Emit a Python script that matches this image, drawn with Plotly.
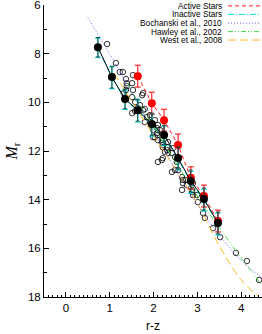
import plotly.graph_objects as go

# ---------------- data ----------------
# individual stars (open circles)
star_rz = [0.94, 1.14, 1.23, 1.30, 1.37, 1.39, 1.39, 1.37, 1.32, 1.53, 1.51, 1.53, 1.51, 1.58,
           1.74, 1.76, 1.69, 1.64, 1.76, 1.51, 1.58, 1.85, 1.80, 1.92, 1.99, 2.10, 2.08, 2.15,
           2.03, 1.80, 1.92, 1.99, 2.08, 2.03, 2.10, 2.19, 2.19, 2.10, 2.19, 2.21, 2.26, 2.31,
           2.33, 2.21, 2.33, 2.31, 2.44, 2.42, 2.49, 2.53, 2.42, 2.49, 2.56, 2.65, 2.72, 2.67,
           2.65, 2.76, 2.90, 2.88, 2.90, 2.99, 3.01, 2.88, 3.13, 3.17, 3.36, 3.52, 3.88, 4.13,
           4.41, 2.67, 1.99, 2.08, 2.21]
star_mr = [7.60, 8.38, 8.75, 8.75, 9.04, 9.21, 9.33, 9.49, 9.62, 8.88, 9.21, 9.49, 9.78, 9.99,
           9.70, 9.62, 10.11, 10.23, 10.32, 10.44, 10.36, 10.60, 10.81, 10.81, 10.93, 10.93, 11.06, 11.14,
           10.73, 10.27, 10.52, 11.14, 11.26, 11.43, 11.55, 11.55, 11.67, 12.45, 12.37, 12.29, 12.04, 11.96,
           12.08, 11.84, 11.63, 11.84, 11.88, 12.08, 12.25, 12.45, 12.86, 12.78, 12.78, 13.07, 13.19, 13.32,
           13.60, 13.40, 13.32, 13.69, 13.81, 13.81, 14.10, 13.60, 14.55, 14.75, 15.17, 15.54, 16.19, 16.52,
           17.30, 13.19, 11.43, 11.35, 11.75]

# binned means: all stars (black)
bin_rz = [0.73, 1.05, 1.35, 1.64, 1.96, 2.24, 2.56, 2.85, 3.15, 3.47]
all_mr = [7.73, 8.96, 9.86, 10.32, 10.89, 11.34, 12.29, 13.23, 13.97, 14.96]
all_err = [0.40, 0.45, 0.40, 0.45, 0.45, 0.40, 0.45, 0.45, 0.45, 0.45]

# inactive stars (cyan)
inactive_mr = [7.76, 8.99, 9.89, 10.36, 10.94, 11.38, 12.33, 13.29, 14.02, 15.00]
inactive_err = [0.40, 0.45, 0.40, 0.45, 0.45, 0.40, 0.45, 0.45, 0.45, 0.45]

# active stars (red)
active_rz = [1.64, 1.96, 2.24, 2.56, 2.85, 3.15, 3.47]
active_mr = [8.92, 10.03, 10.73, 11.75, 13.10, 13.85, 14.88]
active_err = [0.45, 0.45, 0.45, 0.45, 0.45, 0.45, 0.45]

# literature relations
boch_rz = [0.50, 1.00, 1.50, 2.00, 2.50, 3.00, 3.50, 4.00, 4.45]
boch_mr = [6.52, 8.01, 9.59, 11.18, 12.74, 14.19, 15.46, 16.50, 17.18]

hawley_rz = [1.40, 1.75, 2.00, 2.50, 3.00, 3.50, 4.00, 4.45]
hawley_mr = [9.20, 10.30, 11.00, 12.45, 13.85, 15.15, 16.40, 17.45]

west_rz = [1.10, 1.50, 2.00, 2.50, 3.00, 3.50, 4.00, 4.40]
west_mr = [8.80, 9.95, 11.35, 12.75, 14.15, 15.90, 17.30, 18.00]

legend_labels = ["Active Stars", "Inactive Stars", "Bochanski et al., 2010",
                 "Hawley et al., 2002", "West et al., 2008"]

# ---------------- styles ----------------
RED = "#ff1a1a"
CYAN = "#00d8d8"
BLUE = "#6a5cff"
GREEN = "#44dd44"
ORANGE = "#ffbb22"

legend_styles = [(RED, "4px,3px"), (CYAN, "6px,2px,1px,2px"), (BLUE, "1px,2px"),
                 (GREEN, "5px,2px,1px,2px,1px,2px"), (ORANGE, "8px,4px")]

fig = go.Figure()

fig.add_trace(go.Scatter(x=star_rz, y=star_mr, mode="markers",
                         marker=dict(symbol="circle-open", size=5.5, color="black",
                                     line=dict(width=0.8, color="black")),
                         showlegend=False))

fig.add_trace(go.Scatter(x=west_rz, y=west_mr, mode="lines", line_shape="spline",
                         line=dict(color=ORANGE, width=1, dash="8px,4px"), showlegend=False))
fig.add_trace(go.Scatter(x=hawley_rz, y=hawley_mr, mode="lines", line_shape="spline",
                         line=dict(color=GREEN, width=1, dash="5px,2px,1px,2px,1px,2px"),
                         showlegend=False))
fig.add_trace(go.Scatter(x=boch_rz, y=boch_mr, mode="lines", line_shape="spline",
                         line=dict(color=BLUE, width=1, dash="1px,2px"), showlegend=False))

fig.add_trace(go.Scatter(x=bin_rz, y=inactive_mr, mode="lines+markers",
                         line=dict(color=CYAN, width=1, dash="6px,2px,1px,2px"),
                         marker=dict(size=6, color=CYAN),
                         error_y=dict(type="data", array=inactive_err, color=CYAN,
                                      thickness=1, width=3),
                         showlegend=False))
fig.add_trace(go.Scatter(x=active_rz, y=active_mr, mode="lines+markers",
                         line=dict(color=RED, width=1, dash="4px,3px"),
                         marker=dict(size=8, color="red"),
                         error_y=dict(type="data", array=active_err, color="red",
                                      thickness=1, width=3),
                         showlegend=False))
fig.add_trace(go.Scatter(x=bin_rz, y=all_mr, mode="lines+markers",
                         line=dict(color="black", width=1),
                         marker=dict(size=8, color="black"),
                         error_y=dict(type="data", array=all_err, color="#114848",
                                      thickness=1, width=2),
                         showlegend=False))

# custom legend: text on the left, line sample on the right
row_y = [0.997, 0.968, 0.938, 0.909, 0.880]
for lbl, yy, (col, dsh) in zip(legend_labels, row_y, legend_styles):
    fig.add_annotation(x=0.821, y=yy, xref="paper", yref="paper", text=lbl,
                       showarrow=False, xanchor="right", yanchor="middle",
                       font=dict(family="Liberation Sans", size=8.3, color="black"),
                       borderpad=0)
    fig.add_shape(type="line", xref="paper", yref="paper", x0=0.844, x1=0.995,
                  y0=yy, y1=yy, line=dict(color=col, width=1, dash=dsh))

fig.update_layout(
    width=262, height=334,
    margin=dict(l=44, r=0, t=5, b=37, autoexpand=False),
    paper_bgcolor="white", plot_bgcolor="white",
    font=dict(family="Liberation Sans", size=11, color="black"),
    xaxis=dict(range=[-0.5, 4.475], showgrid=False, zeroline=False, automargin=False,
               showline=True, linecolor="black", linewidth=1,
               tickmode="linear", tick0=0, dtick=1,
               ticks="inside", ticklen=5, tickcolor="black",
               minor=dict(dtick=0.1, tick0=0, ticks="inside", ticklen=2, tickcolor="black"),
               tickfont=dict(size=11.5), ticklabeloverflow="allow"),
    yaxis=dict(range=[18.001, 5.995], showgrid=False, zeroline=False, automargin=False,
               showline=True, linecolor="black", linewidth=1,
               tickmode="linear", tick0=6, dtick=2,
               ticks="inside", ticklen=5, tickcolor="black",
               minor=dict(dtick=1, tick0=6, ticks="inside", ticklen=3, tickcolor="black"),
               title=dict(text="<i>M</i><sub>r</sub>",
                          font=dict(family="Liberation Serif", size=16), standoff=6),
               tickfont=dict(size=11.5), ticklabeloverflow="allow"),
)

# x-axis title placed explicitly
fig.add_annotation(x=0.5, y=-0.098, xref="paper", yref="paper", text="r-z",
                   showarrow=False, xanchor="center", yanchor="middle",
                   font=dict(family="Liberation Sans", size=12, color="black"))

fig.write_html("out.html", config={"displayModeBar": False},
               post_script="document.body.style.margin='0';document.body.style.padding='0';"
                           "document.body.style.overflow='hidden';")
